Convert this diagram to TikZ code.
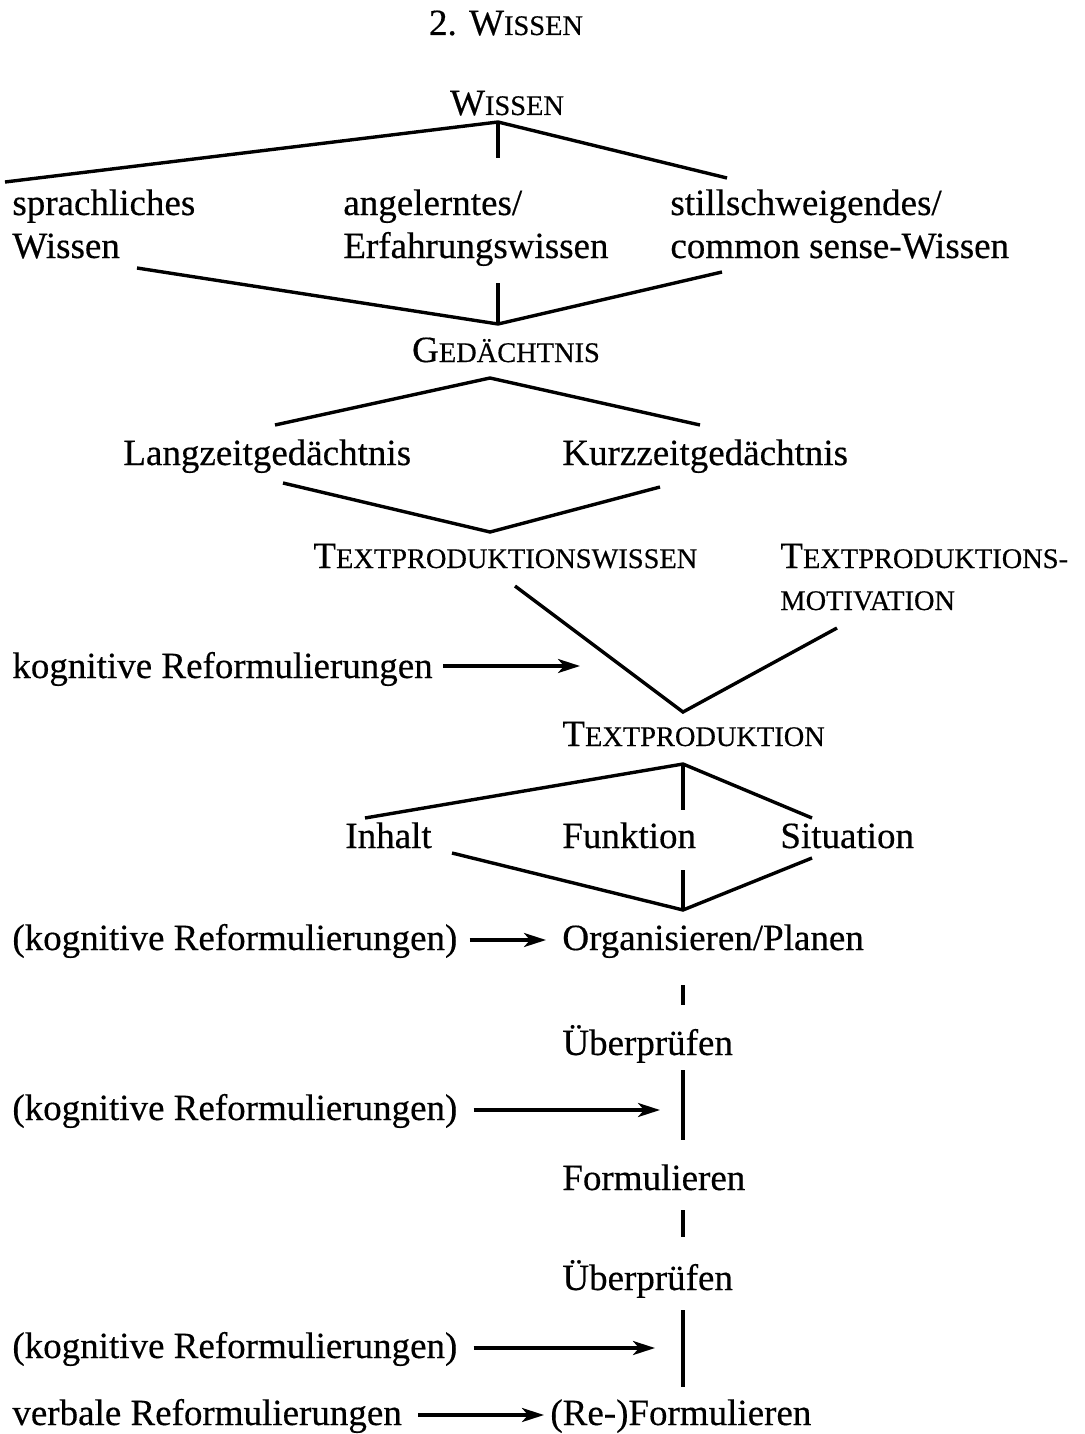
\documentclass[tikz,border=0pt]{standalone}
\usepackage{fontspec}
\setmainfont{Liberation Serif}[FakeBold=0.4]
\usetikzlibrary{arrows.meta}
% small caps built from a full capital and reduced capitals
\newcommand\fsc[2]{#1{\fontsize{14.2}{15}\selectfont #2}}
\begin{document}
\begin{tikzpicture}[x=0.5pt,y=-0.5pt,
  txt/.style={anchor=base west,inner sep=0pt,font=\fontsize{18.5}{21}\selectfont},
  ctxt/.style={anchor=base,inner sep=0pt,font=\fontsize{18.5}{21}\selectfont},
  conn/.style={line width=1.7pt},
  arr/.style={line width=1.7pt,-{Stealth[length=11pt,width=7pt,inset=3pt]}}]
\useasboundingbox (0,0) rectangle (1084,1434);

% heading
\node[ctxt] (head) at (506,35) {2. \fsc{W}{ISSEN}};

% knowledge
\node[ctxt] (wissen) at (507,115) {\fsc{W}{ISSEN}};
\node[txt] (spr1) at (12,215) {sprachliches};
\node[txt] (spr2) at (12,258) {Wissen};
\node[txt] (ang1) at (343,215) {angelerntes/};
\node[txt] (ang2) at (343,258) {Erfahrungswissen};
\node[txt] (sti1) at (670,215) {stillschweigendes/};
\node[txt] (sti2) at (670,258) {common sense-Wissen};

\coordinate (wA) at (498,122);
\coordinate (wL) at (5,182);
\coordinate (wM) at (498,158);
\coordinate (wR) at (727,178);
\draw[conn] (wL) -- (wA) -- (wR);
\draw[conn] (wA) -- (wM);

\coordinate (gA) at (498,324);
\coordinate (gL) at (137,268);
\coordinate (gM) at (498,283);
\coordinate (gR) at (722,272);
\draw[conn] (gL) -- (gA) -- (gR);
\draw[conn] (gM) -- (gA);

% memory
\node[ctxt] (ged) at (506,362) {\fsc{G}{EDÄCHTNIS}};
\node[txt] (lang) at (123,465) {Langzeitgedächtnis};
\node[txt] (kurz) at (562,465) {Kurzzeitgedächtnis};
\coordinate (mA) at (490,378);
\coordinate (mL) at (275,425);
\coordinate (mR) at (700,425);
\draw[conn] (mL) -- (mA) -- (mR);
\coordinate (tA) at (490,532);
\coordinate (tL) at (283,483);
\coordinate (tR) at (660,487);
\draw[conn] (tL) -- (tA) -- (tR);

% text production
\node[txt] (tpw) at (313,568) {\fsc{T}{EXTPRODUKTIONSWISSEN}};
\node[txt] (tpm1) at (780,568) {\fsc{T}{EXTPRODUKTIONS-}};
\node[txt] (tpm2) at (780,610) {\fsc{}{MOTIVATION}};
\coordinate (pA) at (683,712);
\coordinate (pL) at (515,586);
\coordinate (pR) at (837,628);
\draw[conn] (pL) -- (pA) -- (pR);
\node[txt] (kog1) at (12,678) {kognitive Reformulierungen};
\coordinate (kog1e) at (580,666);
\draw[arr] (kog1.east|-kog1e) ++(10,0) -- (kog1e);

\node[txt] (tp) at (562,746) {\fsc{T}{EXTPRODUKTION}};
\coordinate (sA) at (683,764);
\coordinate (sL) at (365,818);
\coordinate (sM) at (683,810);
\coordinate (sR) at (812,818);
\draw[conn] (sL) -- (sA) -- (sR);
\draw[conn] (sA) -- (sM);
\node[txt] (inh) at (345,848) {Inhalt};
\node[txt] (fun) at (562,848) {Funktion};
\node[txt] (sit) at (780,848) {Situation};
\coordinate (oA) at (683,910);
\coordinate (oL) at (452,853);
\coordinate (oM) at (683,870);
\coordinate (oR) at (812,858);
\draw[conn] (oL) -- (oA) -- (oR);
\draw[conn] (oM) -- (oA);

% process chain
\node[txt] (kog2) at (12,950) {(kognitive Reformulierungen)};
\node[txt] (org) at (562,950) {Organisieren/Planen};
\draw[arr] ([xshift=6pt]kog2.east|-0,940) -- ([xshift=-8pt]org.west|-0,940);
\coordinate (v1a) at (683,985);
\coordinate (v1b) at (683,1005);
\draw[conn] (v1a) -- (v1b);
\node[txt] (ue1) at (562,1055) {Überprüfen};
\coordinate (v2a) at (683,1070);
\coordinate (v2b) at (683,1140);
\draw[conn] (v2a) -- (v2b);
\node[txt] (kog3) at (12,1120) {(kognitive Reformulierungen)};
\coordinate (kog3e) at (660,1110);
\draw[arr] ([xshift=8pt]kog3.east|-kog3e) -- (kog3e);
\node[txt] (form) at (562,1190) {Formulieren};
\coordinate (v3a) at (683,1210);
\coordinate (v3b) at (683,1237);
\draw[conn] (v3a) -- (v3b);
\node[txt] (ue2) at (562,1290) {Überprüfen};
\coordinate (v4a) at (683,1310);
\coordinate (v4b) at (683,1387);
\draw[conn] (v4a) -- (v4b);
\node[txt] (kog4) at (12,1358) {(kognitive Reformulierungen)};
\coordinate (kog4e) at (655,1348);
\draw[arr] ([xshift=8pt]kog4.east|-kog4e) -- (kog4e);
\node[txt] (verb) at (12,1425) {verbale Reformulierungen};
\node[txt] (reform) at (550,1425) {(Re-)Formulieren};
\draw[arr] ([xshift=8pt]verb.east|-0,1415) -- ([xshift=-3pt]reform.west|-0,1415);
\end{tikzpicture}
\end{document}
